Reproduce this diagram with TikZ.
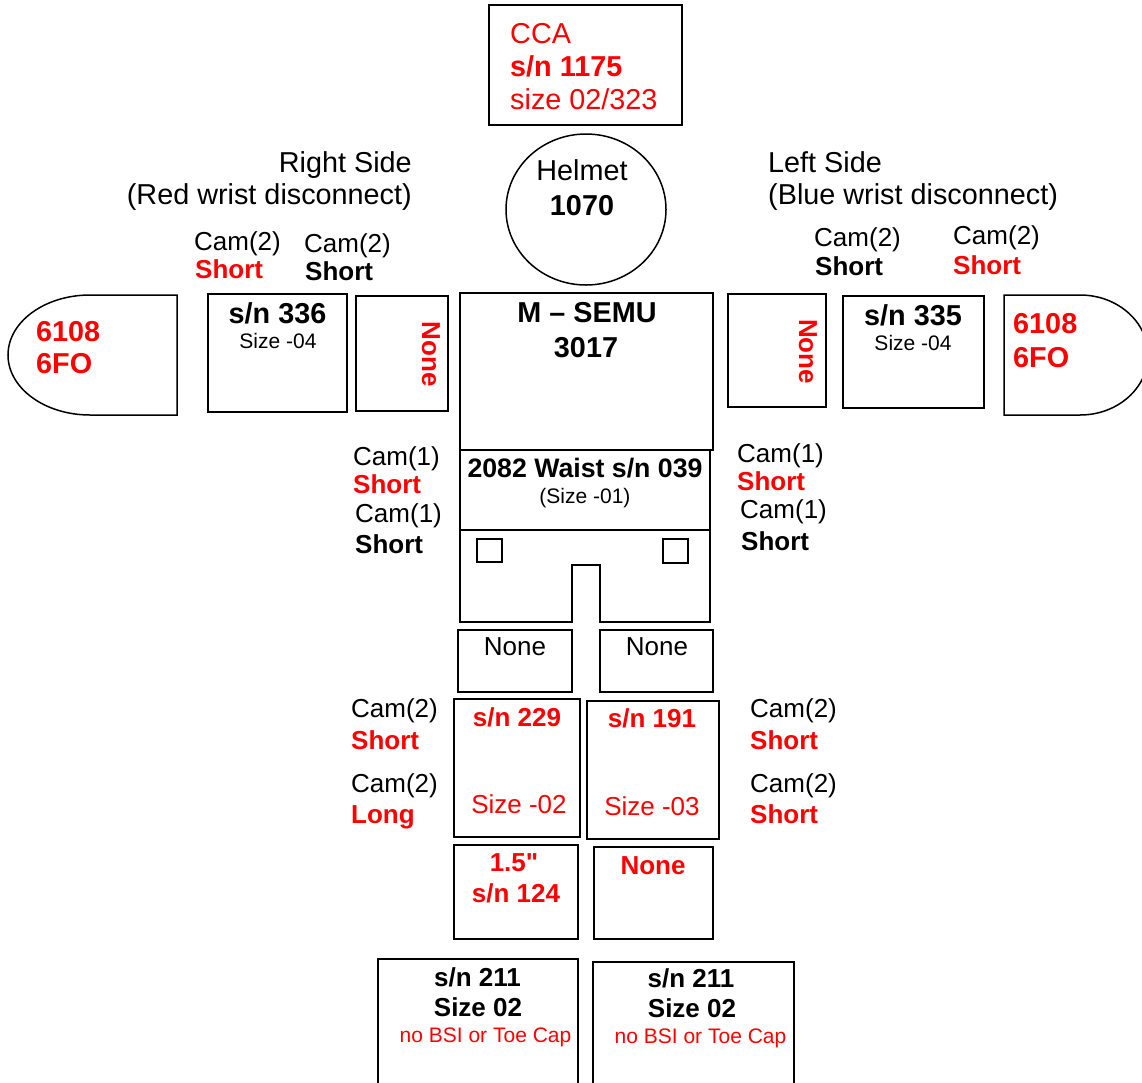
\documentclass[tikz,border=0pt]{standalone}
\usepackage{fontspec}
\setmainfont{Liberation Sans}[Ligatures=TeXOff]
\usetikzlibrary{shapes.geometric}
\begin{document}
\begin{tikzpicture}[x=1pt,y=-1pt,
  box/.style={draw, line width=1.5pt, rectangle, inner sep=0pt},
  ln/.style={line width=1.5pt},
  tr/.style={font=\fontsize{26}{30}\selectfont, inner sep=0pt},
  tb/.style={font=\fontsize{26}{30}\selectfont\bfseries, inner sep=0pt},
  tl/.style={font=\fontsize{28.8}{32}\selectfont, inner sep=0pt},
  tlb/.style={font=\fontsize{28.8}{32}\selectfont\bfseries, inner sep=0pt},
  ts/.style={font=\fontsize{21}{24}\selectfont, inner sep=0pt},
  rd/.style={text=red}]
\clip (0,0) rectangle (1142,1082);
\fill[white] (0,0) rectangle (1142,1082);

% CCA
\node[box, minimum width=193pt, minimum height=120pt] (cca) at (585.5,65) {};
\node[tl, rd, anchor=base west] (ccat) at (510,43) {CCA};
\node[tlb, rd, anchor=base west] (ccasn) at (510,76) {s/n 1175};
\node[tl, rd, anchor=base west] (ccasz) at (510,109) {size 02/323};

% Helmet
\node[draw, line width=1.5pt, ellipse, minimum width=160pt, minimum height=151pt, inner sep=0pt] (helmet) at (586,209.5) {};
\node[tl, anchor=base] (helmett) at (582,180) {Helmet};
\node[tlb, anchor=base] (helmetn) at (582,215) {1070};

% side labels
\node[tl, anchor=base east] (rs1) at (412,172) {Right Side};
\node[tl, anchor=base east] (rs2) at (412,204) {(Red wrist disconnect)};
\node[tl, anchor=base west] (ls1) at (768,172) {Left Side};
\node[tl, anchor=base west] (ls2) at (768,204) {(Blue wrist disconnect)};

% arm cam labels
\node[tr, anchor=base west] (ca1) at (194,250) {Cam(2)};
\node[tb, rd, anchor=base west] (cs1) at (195,278) {Short};
\node[tr, anchor=base west] (ca2) at (304,252) {Cam(2)};
\node[tb, anchor=base west] (cs2) at (305,280) {Short};
\node[tr, anchor=base west] (ca3) at (814,246) {Cam(2)};
\node[tb, anchor=base west] (cs3) at (815,275) {Short};
\node[tr, anchor=base west] (ca4) at (953,244) {Cam(2)};
\node[tb, rd, anchor=base west] (cs4) at (953,274) {Short};

% gloves
\draw[ln] (177,295) -- (90,295) arc[start angle=90, end angle=270, x radius=82pt, y radius=60pt] -- (177,415) -- cycle;
\node[tlb, rd, anchor=base west] (gl1) at (36,341) {6108};
\node[tlb, rd, anchor=base west] (gl2) at (36,373) {6FO};
\draw[ln] (1004,295) -- (1080,295) arc[start angle=90, end angle=-90, x radius=68pt, y radius=60pt] -- (1004,415) -- cycle;
\node[tlb, rd, anchor=base west] (gr1) at (1013,333) {6108};
\node[tlb, rd, anchor=base west] (gr2) at (1013,367) {6FO};

% arm boxes
\node[box, minimum width=139pt, minimum height=118pt] (sn336) at (277.5,353) {};
\node[tlb, anchor=base] (sn336t) at (277.5,323) {s/n 336};
\node[ts, anchor=base] (sn336s) at (278,348) {Size -04};
\node[box, minimum width=92pt, minimum height=115pt] (noneRa) at (402,353.5) {};
\node[tb, rd, rotate=-90] (noneRat) at (431,354) {None};
\node[box, minimum width=98pt, minimum height=113pt] (noneLa) at (777,350.5) {};
\node[tb, rd, rotate=-90] (noneLat) at (808,351.5) {None};
\node[box, minimum width=141pt, minimum height=112pt] (sn335) at (913.5,352) {};
\node[tlb, anchor=base] (sn335t) at (913,325) {s/n 335};
\node[ts, anchor=base] (sn335s) at (913,350) {Size -04};

% torso
\node[box, minimum width=253pt, minimum height=157pt] (semu) at (586.5,371.5) {};
\node[tlb, anchor=base] (semu1) at (587,322) {M – SEMU};
\node[tlb, anchor=base] (semu2) at (586,357) {3017};
\node[box, minimum width=250pt, minimum height=80pt] (waist) at (585,490) {};
\node[font=\fontsize{26.7}{30}\selectfont\bfseries, inner sep=0pt, anchor=base] (waist1) at (585,477) {2082 Waist s/n 039};
\node[ts, anchor=base] (waist2) at (585,503) {(Size -01)};
\draw[ln] (460,530) -- (460,622) -- (572,622) -- (572,565) -- (600,565) -- (600,622) -- (710,622) -- (710,530);
\draw[line width=1.2pt] (477,539) rectangle (502,562);
\draw[line width=1.2pt] (663,539) rectangle (688,563);

% waist cam labels
\node[tr, anchor=base west] (wa1) at (353,465) {Cam(1)};
\node[tb, rd, anchor=base west] (ws1) at (353,493) {Short};
\node[tr, anchor=base west] (wa2) at (355,522) {Cam(1)};
\node[tb, anchor=base west] (ws2) at (355,553) {Short};
\node[tr, anchor=base west] (wa3) at (737,462) {Cam(1)};
\node[tb, rd, anchor=base west] (ws3) at (737,490) {Short};
\node[tr, anchor=base west] (wa4) at (740,518) {Cam(1)};
\node[tb, anchor=base west] (ws4) at (741,550) {Short};

% thighs
\node[box, minimum width=114pt, minimum height=62pt] (thighL) at (515,661) {};
\node[tr, anchor=base] (thighLt) at (515,655) {None};
\node[box, minimum width=113pt, minimum height=62pt] (thighR) at (656.5,661) {};
\node[tr, anchor=base] (thighRt) at (657,655) {None};

% legs
\node[box, minimum width=126pt, minimum height=138pt] (sn229) at (517,768) {};
\node[tb, rd, anchor=base] (sn229t) at (517,726) {s/n 229};
\node[tr, rd, anchor=base] (sn229s) at (519,813) {Size -02};
\node[box, minimum width=132pt, minimum height=138pt] (sn191) at (653,770) {};
\node[tb, rd, anchor=base] (sn191t) at (652,727) {s/n 191};
\node[tr, rd, anchor=base] (sn191s) at (652,815) {Size -03};

\node[tr, anchor=base west] (la1) at (351,717) {Cam(2)};
\node[tb, rd, anchor=base west] (ls1b) at (351,749) {Short};
\node[tr, anchor=base west] (la2) at (351,792) {Cam(2)};
\node[tb, rd, anchor=base west] (ls2b) at (351,823) {Long};
\node[tr, anchor=base west] (ra1) at (750,717) {Cam(2)};
\node[tb, rd, anchor=base west] (rs1b) at (750,749) {Short};
\node[tr, anchor=base west] (ra2) at (750,792) {Cam(2)};
\node[tb, rd, anchor=base west] (rs2b) at (750,823) {Short};

% lower legs
\node[box, minimum width=124pt, minimum height=94pt] (sn124) at (516,892) {};
\node[tb, rd, anchor=base] (sn124a) at (514,871) {1.5"};
\node[tb, rd, anchor=base] (sn124b) at (516,902) {s/n 124};
\node[box, minimum width=119pt, minimum height=92pt] (noneF) at (653.5,893) {};
\node[tb, rd, anchor=base] (noneFt) at (653,874) {None};

% boots
\node[box, minimum width=200pt, minimum height=131pt] (bootL) at (478,1024.5) {};
\node[tb, anchor=base] (bootL1) at (477.5,986) {s/n 211};
\node[tb, anchor=base] (bootL2) at (478,1016) {Size 02};
\node[ts, rd, anchor=base] (bootL3) at (485.5,1042) {no BSI or Toe Cap};
\node[box, minimum width=201pt, minimum height=128pt] (bootR) at (693.5,1026) {};
\node[tb, anchor=base] (bootR1) at (691,987) {s/n 211};
\node[tb, anchor=base] (bootR2) at (692,1017) {Size 02};
\node[ts, rd, anchor=base] (bootR3) at (700.5,1043) {no BSI or Toe Cap};
\end{tikzpicture}
\end{document}
